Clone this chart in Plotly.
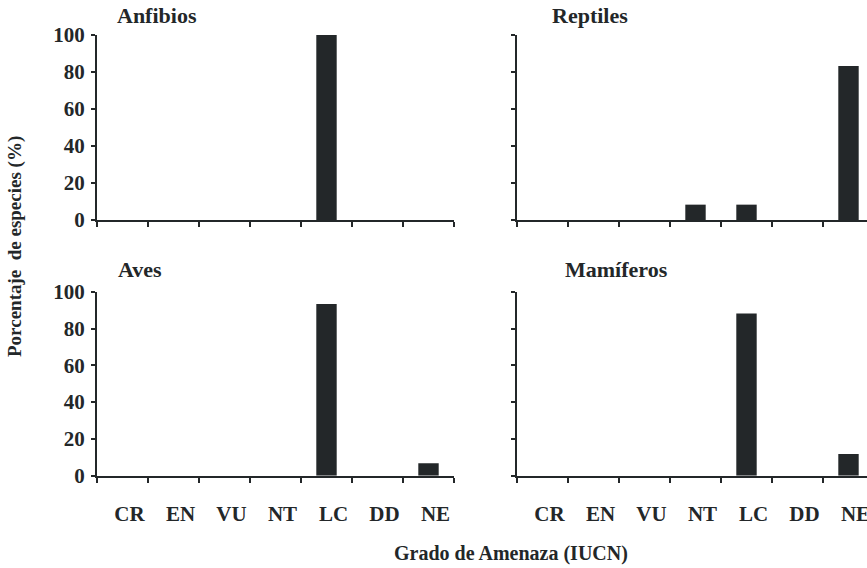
import plotly.graph_objects as go

categories = ["CR", "EN", "VU", "NT", "LC", "DD", "NE"]
anfibios = [0, 0, 0, 0, 100, 0, 0]
reptiles = [0, 0, 0, 8.3, 8.3, 0, 83.3]
aves = [0, 0, 0, 0, 93.3, 0, 6.7]
mamiferos = [0, 0, 0, 0, 88.2, 0, 11.8]
panel_titles = ["Anfibios", "Reptiles", "Aves", "Mamíferos"]
y_ticks = [0, 20, 40, 60, 80, 100]

W, H = 867, 568
INK = "#232729"
FONT = "Liberation Serif"

def px(x):
    return x / W

def py(y):
    return 1 - y / H

fig = go.Figure()
series = [anfibios, reptiles, aves, mamiferos]
for i, vals in enumerate(series):
    ax = "" if i == 0 else str(i + 1)
    fig.add_trace(go.Bar(x=categories, y=vals, marker=dict(color=INK, line=dict(width=0)),
                         width=0.4, xaxis="x" + ax, yaxis="y" + ax, showlegend=False))

left_dom = [px(97), px(454)]
right_dom = [px(517), 1.0]
# the reference cuts the right panels at the image edge (full panel would end at 874 px)
right_end = -0.5 + 7 * (W - 517) / 357
top_dom = [py(220), py(35)]
bot_dom = [py(475.7), py(291.7)]

axfont = dict(family=FONT, size=21, color=INK, weight="bold")

def xaxis(dom, anchor, rng, labels):
    return dict(domain=dom, anchor=anchor, type="category", range=rng,
                tickson="boundaries", ticks="outside", ticklen=5, tickwidth=2,
                tickcolor=INK, showline=True, linecolor=INK, linewidth=2,
                showgrid=False, zeroline=False, showticklabels=labels,
                tickfont=axfont, ticklabelshift=7, ticklabelstandoff=18,
                automargin=False, fixedrange=True)

def yaxis(dom, anchor, labels):
    return dict(domain=dom, anchor=anchor, range=[0, 100], tickvals=y_ticks,
                ticks="outside", ticklen=4, tickwidth=2, tickcolor=INK,
                showline=True, linecolor=INK, linewidth=2, showgrid=False,
                zeroline=False, showticklabels=labels, tickfont=axfont,
                ticklabelstandoff=2, automargin=False, fixedrange=True)

fig.update_layout(
    width=W, height=H, margin=dict(l=0, r=0, t=0, b=0, autoexpand=False),
    paper_bgcolor="white", plot_bgcolor="white", bargap=0.6,
    xaxis=xaxis(left_dom, "y", [-0.5, 6.5], False),
    yaxis=yaxis(top_dom, "x", True),
    xaxis2=xaxis(right_dom, "y2", [-0.5, right_end], False),
    yaxis2=yaxis(top_dom, "x2", False),
    xaxis3=xaxis(left_dom, "y3", [-0.5, 6.5], True),
    yaxis3=yaxis(bot_dom, "x3", True),
    xaxis4=xaxis(right_dom, "y4", [-0.5, right_end], True),
    yaxis4=yaxis(bot_dom, "x4", False),
)

title_pos = [(115, 15), (550, 15), (116, 270), (563, 270)]
for t, (x, y) in zip(panel_titles, title_pos):
    fig.add_annotation(text="<b>" + t + "</b>", x=px(x), y=py(y), xref="paper", yref="paper",
                       xanchor="left", yanchor="middle", showarrow=False,
                       font=dict(family=FONT, size=22, color=INK))

fig.add_annotation(text="<b>Porcentaje\u00a0 de especies (%)</b>", x=px(15), y=py(247),
                   xref="paper", yref="paper", textangle=-90, showarrow=False,
                   xanchor="center", yanchor="middle",
                   font=dict(family=FONT, size=19, color=INK))
fig.add_annotation(text="<b>Grado de Amenaza (IUCN)</b>", x=px(511), y=py(553),
                   xref="paper", yref="paper", showarrow=False,
                   xanchor="center", yanchor="middle",
                   font=dict(family=FONT, size=20, color=INK))

fig.write_html("out.html", config={"displayModeBar": False, "staticPlot": True},
               post_script="document.body.style.margin='0';")
